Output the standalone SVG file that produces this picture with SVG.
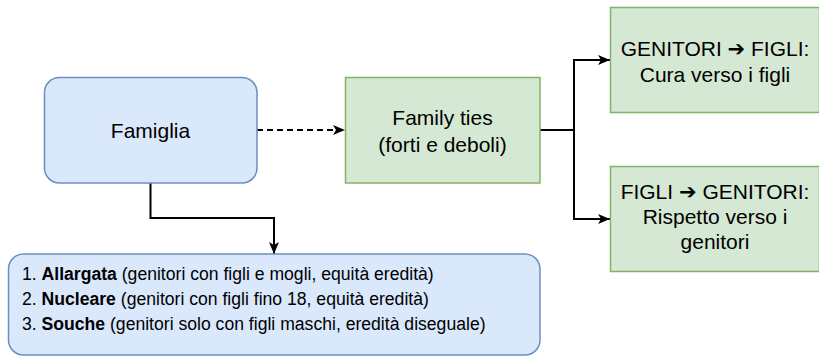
<svg xmlns="http://www.w3.org/2000/svg" width="819" height="357" viewBox="0 0 819 357">
<style>
.blue{fill:#dae8fc;stroke:#6c8ebf;stroke-width:1.5}
.green{fill:#d5e8d4;stroke:#82b366;stroke-width:1.5}
.t{font-family:"Liberation Sans",Arial,"DejaVu Sans",sans-serif;font-size:21px;fill:#000;text-anchor:middle}
.l{font-family:"Liberation Sans",Arial,"DejaVu Sans",sans-serif;font-size:17.6px;fill:#000}
.c{fill:none;stroke:#000;stroke-width:2}
</style>
<defs>
<marker id="arr" markerUnits="userSpaceOnUse" viewBox="0 0 12 10" markerWidth="12" markerHeight="10" refX="12" refY="5" orient="auto">
<path d="M0,0 L12,5 L0,10 L3,5 Z" fill="#000"/>
</marker>
</defs>
<g id="connectors">
<path class="c" d="M257,130 H345" stroke-dasharray="6 4" marker-end="url(#arr)"/>
<path class="c" d="M150.5,183 V218 H274 V254" marker-end="url(#arr)"/>
<path class="c" d="M540,130 H574 V60 H610" marker-end="url(#arr)"/>
<path class="c" d="M540,130 H574 V219 H610" marker-end="url(#arr)"/>
</g>
<g id="famiglia">
<rect class="blue" x="44.5" y="77.5" width="212.5" height="105.5" rx="15"/>
<text class="t" x="150.5" y="137.5">Famiglia</text>
</g>
<g id="family-ties">
<rect class="green" x="345.5" y="77.5" width="194.5" height="105.5"/>
<text class="t" x="442.5" y="125">Family ties</text>
<text class="t" x="442.5" y="152">(forti e deboli)</text>
</g>
<g id="genitori-figli">
<rect class="green" x="610.5" y="7.5" width="209" height="105"/>
<text class="t" x="715" y="56">GENITORI ➔ FIGLI:</text>
<text class="t" x="715" y="81.5">Cura verso i figli</text>
</g>
<g id="figli-genitori">
<rect class="green" x="610.5" y="166.5" width="209" height="105"/>
<text class="t" x="715" y="199">FIGLI ➔ GENITORI:</text>
<text class="t" x="715" y="224">Rispetto verso i</text>
<text class="t" x="715" y="249">genitori</text>
</g>
<g id="tipi">
<rect class="blue" x="8.5" y="254" width="531.5" height="101" rx="15"/>
<text class="l" x="22" y="280">1. <tspan font-weight="bold">Allargata</tspan> (genitori con figli e mogli, equità eredità)</text>
<text class="l" x="22" y="305">2. <tspan font-weight="bold">Nucleare</tspan> (genitori con figli fino 18, equità eredità)</text>
<text class="l" x="22" y="330">3. <tspan font-weight="bold">Souche</tspan> (genitori solo con figli maschi, eredità diseguale)</text>
</g>
</svg>
